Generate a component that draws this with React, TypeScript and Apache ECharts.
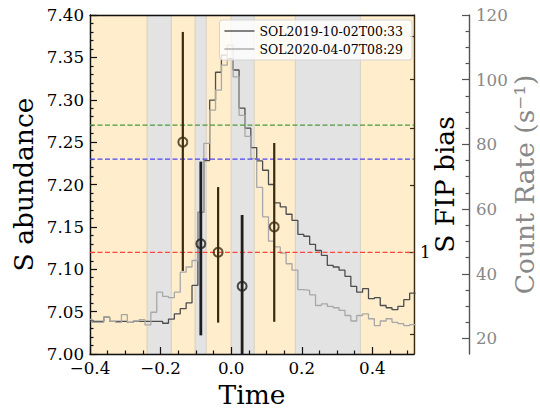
import React, { useEffect, useRef } from "react";
import * as echarts from "echarts";

// ---------- data ----------
const X_MIN = -0.4;
const X_MAX = 0.518;
const Y_MIN = 7.0;
const Y_MAX = 7.4;
const C_MIN = 15.2;
const C_MAX = 120;

const xTicks = [-0.4, -0.2, 0.0, 0.2, 0.4];
const xMinorTicks = [-0.35, -0.3, -0.25, -0.15, -0.1, -0.05, 0.05, 0.1, 0.15, 0.25, 0.3, 0.35, 0.45, 0.5];
const yTicks = [7.0, 7.05, 7.1, 7.15, 7.2, 7.25, 7.3, 7.35, 7.4];
const countTicks = [20, 40, 60, 80, 100, 120];
const countMinorTicks = [25, 30, 35, 45, 50, 55, 65, 70, 75, 85, 90, 95, 105, 110, 115];
const fipMajor = [1.0];
const fipMinor = [0.8, 1.2, 1.4, 1.6, 1.8];
const FIP_REF = 7.12; // abundance where FIP bias = 1

// background intervals (time)
const orangeBands = [[-0.4, -0.238], [-0.17, -0.102], [-0.071, 0.0], [0.065, 0.182], [0.366, X_MAX]];
const grayBands = [[-0.238, -0.17], [-0.102, -0.071], [0.0, 0.065], [0.182, 0.366]];

// light curves (count rate, 1-minute bins)
const seriesNames = ["SOL2019-10-02T00:33", "SOL2020-04-07T08:29"];
const BIN_START = -0.3943;
const BIN_WIDTH = 1 / 60;
const counts2019 = [
  25.3, 25.3, 25.3, 26.6, 25.3, 25.3, 25.3, 25.0, 25.3, 25.3, 25.3, 25.3, 25.3, 24.7, 26.0, 27.6,
  29.2, 31.0, 36.4, 59.0, 75.0, 93.7, 102.3, 107.6, 106.5, 103.0, 91.2, 85.0, 79.0, 74.9, 72.0,
  67.6, 61.9, 60.7, 58.4, 56.5, 52.2, 51.6, 49.1, 47.2, 45.7, 42.6, 42.1, 41.1, 39.2, 36.1, 34.3,
  35.4, 32.3, 32.6, 30.2, 29.5, 28.9, 29.9, 32.0, 34.0,
];
const counts2020 = [
  25.9, 25.0, 25.0, 26.6, 25.3, 25.0, 27.4, 25.0, 25.4, 25.8, 24.2, 28.1, 34.3, 33.0, 32.6, 34.3,
  40.5, 42.1, 44.1, 59.1, 80.3, 90.6, 96.8, 104.5, 110.7, 100.9, 89.0, 82.5, 75.6, 66.7, 57.6,
  50.1, 48.3, 46.4, 43.1, 41.1, 35.1, 34.9, 33.5, 30.2, 30.7, 29.9, 29.5, 28.7, 27.1, 25.4, 27.1,
  27.6, 26.1, 24.0, 25.4, 26.1, 25.0, 24.6, 24.0, 24.3,
];

// S abundance measurements
const pointTimes = [-0.137, -0.086, -0.037, 0.031, 0.122];
const pointValues = [7.25, 7.13, 7.12, 7.08, 7.15];
const pointLow = [7.098, 7.022, 7.037, 7.0, 7.038];
const pointHigh = [7.38, 7.227, 7.197, 7.164, 7.249];
const pointGroup = [0, 1, 0, 1, 0];

// reference levels
const refLevels = [7.27, 7.23, 7.12];
const refColors = ["#4d9a3d", "#4c46f0", "#ff463d"];

// ---------- styles ----------
const FONT = "DejaVu Serif";
const groupColors = ["#3b2a0c", "#1e1e1e"];
const groupWidths = [2.2, 2.8];
const lineColors = ["#4d4d4d", "#a8a8a8"];

function stepData(counts: number[]) {
  const pts: number[][] = [[X_MIN, counts[0]]];
  for (let k = 1; k < counts.length; k++) pts.push([BIN_START + (k - 1) * BIN_WIDTH, counts[k]]);
  pts.push([BIN_START + (counts.length - 1) * BIN_WIDTH, counts[counts.length - 1]]);
  return pts;
}

function range(a: number, b: number, step: number) {
  const out: number[] = [];
  for (let v = a; v <= b + 1e-9; v += step) out.push(Math.round(v * 1000) / 1000);
  return out;
}

export default function App() {
  const ref = useRef<HTMLDivElement>(null);

  useEffect(() => {
    if (!ref.current) return;
    const chart = echarts.init(ref.current, undefined, { renderer: "svg" });

    const yMinorTicks = range(7.01, 7.39, 0.01).filter((v) => Math.abs(v * 20 - Math.round(v * 20)) > 1e-6);
    const fipToAbund = (f: number) => FIP_REF + Math.log10(f);

    const spine = { show: true, onZero: false, lineStyle: { color: "#111", width: 1.4 } };
    const tickStyle = { color: "#111", width: 1.2 };
    const titleStyle = { fontFamily: FONT, fontSize: 26.5, color: "#000", fontWeight: "normal" };

    const xBase = { type: "value", min: X_MIN, max: X_MAX, splitLine: { show: false }, gridIndex: 0 };
    const yBase = { type: "value", min: Y_MIN, max: Y_MAX, splitLine: { show: false }, gridIndex: 0 };
    const cBase = { type: "value", min: C_MIN, max: C_MAX, splitLine: { show: false }, gridIndex: 0 };

    const bandData = [
      ...orangeBands.map((b) => [b[0], b[1], 0]),
      ...grayBands.map((b) => [b[0], b[1], 1]),
    ];
    const bandFill = ["#ffedcc", "#e3e3e3"];
    const bandStroke = ["rgba(230,200,150,0.6)", "rgba(200,200,200,0.6)"];

    const errData = pointTimes.map((t, i) => [t, pointLow[i], pointHigh[i], pointGroup[i]]);

    const option: any = {
      animation: false,
      backgroundColor: "#ffffff",
      textStyle: { fontFamily: FONT },
      grid: { left: 90, top: 15, width: 324, height: 339, containLabel: false, outerBoundsMode: "none" },
      legend: {
        data: seriesNames,
        orient: "vertical",
        right: 128,
        top: 20,
        icon: "rect",
        itemWidth: 30,
        itemHeight: 1.4,
        itemGap: 4,
        padding: [4, 9, 4, 5],
        backgroundColor: "rgba(255,255,255,0.8)",
        borderColor: "#d5d5d5",
        borderWidth: 1,
        borderRadius: 3,
        selectedMode: false,
        textStyle: { fontFamily: FONT, fontSize: 12.5, color: "#000", lineHeight: 14 },
      },
      xAxis: [
        {
          ...xBase,
          position: "bottom",
          axisLine: spine,
          axisTick: { show: true, inside: true, length: 7, customValues: xTicks, lineStyle: tickStyle },
          axisLabel: {
            show: true,
            customValues: xTicks,
            margin: 5,
            fontFamily: FONT,
            fontSize: 16.7,
            color: "#000",
            formatter: (v: number) => {
              const r = Math.round(v * 10) / 10;
              return (r < 0 ? "\u2212" : "") + Math.abs(r).toFixed(1);
            },
          },
          name: "Time",
          nameLocation: "middle",
          nameGap: 26,
          nameTextStyle: titleStyle,
        },
        {
          ...xBase,
          position: "bottom",
          axisLine: { show: false, onZero: false },
          axisTick: { show: true, inside: true, length: 3.5, customValues: xMinorTicks, lineStyle: tickStyle },
          axisLabel: { show: false },
        },
        {
          ...xBase,
          position: "top",
          axisLine: spine,
          axisTick: { show: false },
          axisLabel: { show: false },
        },
      ],
      yAxis: [
        {
          ...yBase,
          position: "left",
          axisLine: spine,
          axisTick: { show: true, inside: true, length: 7, customValues: yTicks, lineStyle: tickStyle },
          axisLabel: {
            show: true,
            customValues: yTicks,
            margin: 6,
            fontFamily: FONT,
            fontSize: 16.7,
            color: "#000",
            formatter: (v: number) => v.toFixed(2),
          },
          name: "S abundance",
          nameLocation: "middle",
          nameRotate: 90,
          nameGap: 53,
          nameMoveOverlap: false,
          nameTextStyle: titleStyle,
        },
        {
          ...yBase,
          position: "left",
          axisLine: { show: false, onZero: false },
          axisTick: { show: true, inside: true, length: 3.5, customValues: yMinorTicks, lineStyle: tickStyle },
          axisLabel: { show: false },
        },
        {
          ...yBase,
          position: "right",
          axisLine: { show: true, onZero: false, lineStyle: { color: "#3a2a10", width: 1.4 } },
          axisTick: {
            show: true,
            inside: true,
            length: 7,
            customValues: fipMajor.map(fipToAbund),
            lineStyle: { color: "#3a2a10", width: 1.2 },
          },
          axisLabel: {
            show: true,
            customValues: fipMajor.map(fipToAbund),
            margin: 6,
            fontFamily: FONT,
            fontSize: 16.7,
            color: "#000",
            formatter: () => "1",
          },
          name: "S FIP bias",
          nameLocation: "middle",
          nameRotate: 90,
          nameGap: 17,
          nameMoveOverlap: false,
          nameTextStyle: titleStyle,
        },
        {
          ...yBase,
          position: "right",
          axisLine: { show: false, onZero: false },
          axisTick: {
            show: true,
            inside: true,
            length: 4,
            customValues: fipMinor.map(fipToAbund),
            lineStyle: { color: "#3a2a10", width: 1.2 },
          },
          axisLabel: { show: false },
        },
        {
          ...cBase,
          position: "right",
          offset: 55,
          axisLine: { show: true, onZero: false, lineStyle: { color: "#555", width: 1.4 } },
          axisTick: { show: true, inside: true, length: 7, customValues: countTicks, lineStyle: { color: "#555", width: 1.2 } },
          axisLabel: {
            show: true,
            customValues: countTicks,
            margin: 7,
            fontFamily: FONT,
            fontSize: 16.7,
            color: "#888",
          },
          name: "Count Rate (s\u207B\u00B9)",
          nameLocation: "middle",
          nameRotate: 90,
          nameGap: 42,
          nameMoveOverlap: false,
          nameTextStyle: { ...titleStyle, color: "#888" },
        },
        {
          ...cBase,
          position: "right",
          offset: 55,
          axisLine: { show: false, onZero: false },
          axisTick: { show: true, inside: true, length: 3.5, customValues: countMinorTicks, lineStyle: { color: "#555", width: 1.2 } },
          axisLabel: { show: false },
        },
      ],
      series: [
        {
          type: "custom",
          name: "bands",
          xAxisIndex: 0,
          yAxisIndex: 0,
          z: 0,
          silent: true,
          data: bandData,
          renderItem: (_p: any, api: any) => {
            const s = api.value(0);
            const e = api.value(1);
            const g = api.value(2);
            const p0 = api.coord([s, Y_MAX]);
            const p1 = api.coord([e, Y_MIN]);
            return {
              type: "rect",
              shape: { x: p0[0], y: p0[1], width: p1[0] - p0[0], height: p1[1] - p0[1] },
              style: { fill: bandFill[g], stroke: bandStroke[g], lineWidth: 1 },
            };
          },
        },
        {
          type: "line",
          name: seriesNames[0],
          xAxisIndex: 0,
          yAxisIndex: 4,
          step: "end",
          symbol: "none",
          showSymbol: false,
          z: 3,
          clip: true,
          lineStyle: { color: lineColors[0], width: 1.3 },
          itemStyle: { color: lineColors[0] },
          data: stepData(counts2019),
        },
        {
          type: "line",
          name: seriesNames[1],
          xAxisIndex: 0,
          yAxisIndex: 4,
          step: "end",
          symbol: "none",
          showSymbol: false,
          z: 3,
          clip: true,
          lineStyle: { color: lineColors[1], width: 1.3 },
          itemStyle: { color: lineColors[1] },
          data: stepData(counts2020),
        },
        ...refLevels.map((lvl, i) => ({
          type: "line",
          name: "ref" + i,
          xAxisIndex: 0,
          yAxisIndex: 0,
          symbol: "none",
          showSymbol: false,
          silent: true,
          z: 4,
          lineStyle: { color: refColors[i], width: 1.2, type: [5, 2.5] },
          data: [
            [X_MIN, lvl],
            [X_MAX, lvl],
          ],
        })),
        {
          type: "custom",
          name: "errorbars",
          xAxisIndex: 0,
          yAxisIndex: 0,
          z: 5,
          silent: true,
          data: errData,
          renderItem: (_p: any, api: any) => {
            const x = api.value(0);
            const lo = api.value(1);
            const hi = api.value(2);
            const g = api.value(3);
            const a = api.coord([x, lo]);
            const b = api.coord([x, hi]);
            return {
              type: "line",
              shape: { x1: a[0], y1: a[1], x2: b[0], y2: b[1] },
              style: { stroke: groupColors[g], lineWidth: groupWidths[g] },
            };
          },
        },
        {
          type: "scatter",
          name: "points",
          xAxisIndex: 0,
          yAxisIndex: 0,
          z: 6,
          symbol: "circle",
          symbolSize: 9,
          silent: true,
          data: pointTimes.map((t, i) => ({
            value: [t, pointValues[i]],
            itemStyle: {
              color: "rgba(0,0,0,0)",
              borderColor: groupColors[pointGroup[i]],
              borderWidth: 2,
            },
          })),
        },
      ],
    };

    chart.setOption(option);
    return () => chart.dispose();
  }, []);

  return (
    <div
      ref={ref}
      style={{ position: "fixed", left: 0, top: 0, width: 540, height: 410, background: "#fff" }}
    />
  );
}
